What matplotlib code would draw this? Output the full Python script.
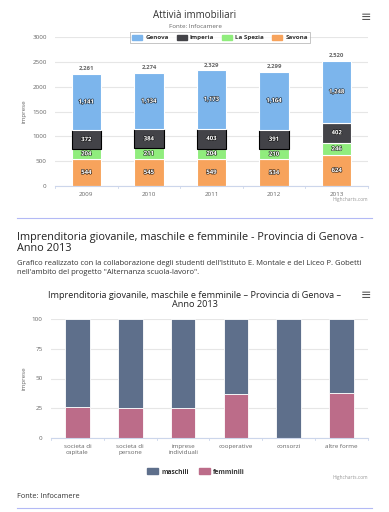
import matplotlib.pyplot as plt
import matplotlib.patheffects as pe
from matplotlib.patches import Patch
import numpy as np

# chart 1 data
anni = ['2009', '2010', '2011', '2012', '2013']
genova = [1141, 1134, 1173, 1164, 1248]
imperia = [372, 384, 403, 391, 402]
la_spezia = [204, 211, 204, 210, 246]
savona = [544, 545, 549, 534, 624]
totali = [2261, 2274, 2329, 2299, 2520]

# chart 2 data (percent)
forme = ['societa di\ncapitale', 'societa di\npersone', 'imprese\nindividuali',
         'cooperative', 'consorzi', 'altre forme']
maschili = [74, 75, 75, 63, 100, 62]
femminili = [26, 25, 25, 37, 0, 38]

W, H = 389, 512
plt.rcParams['font.family'] = ['Open Sans', 'DejaVu Sans']
fig = plt.figure(figsize=(W / 100, H / 100), dpi=100)
fig.patch.set_facecolor('white')


def px(x, y):
    return x / W, 1 - y / H


def axes_px(x0, y0, x1, y1):
    return fig.add_axes([x0 / W, 1 - y1 / H, (x1 - x0) / W, (y1 - y0) / H])


def style_ax(ax, ticks):
    ax.set_yticks(ticks)
    ax.grid(axis='y', color='#e6e6e6', lw=0.8)
    ax.set_axisbelow(True)
    for s in ['top', 'right', 'left']:
        ax.spines[s].set_visible(False)
    ax.spines['bottom'].set_color('#ccd6eb')
    ax.tick_params(axis='y', length=0, labelsize=4.5, labelcolor='#666666', pad=6)
    ax.tick_params(axis='x', length=0, labelsize=4.5, labelcolor='#666666', pad=4)
    ax.set_ylabel('imprese', fontsize=4.5, color='#666666', labelpad=4)


outline = [pe.withStroke(linewidth=0.9, foreground='black', alpha=0.7)]

# ---------- chart 1 ----------
ax1 = axes_px(55, 37, 368, 186)
x = np.arange(len(anni))
bw = 0.47
series = [('Savona', savona, '#f7a35c'), ('La Spezia', la_spezia, '#90ed7d'),
          ('Imperia', imperia, '#434348'), ('Genova', genova, '#7cb5ec')]
bottom = np.zeros(len(anni))
for name, vals, col in series:
    edges = ['black'] * 4 + ['white'] if name == 'Imperia' else ['white'] * 5
    ax1.bar(x, vals, bw, bottom=bottom, color=col, edgecolor=edges, lw=0.8)
    for xi, b, v in zip(x, bottom, vals):
        lab = f'{v:,}'
        ax1.text(xi, b + v / 2, lab, ha='center', va='center', fontsize=4.3,
                 color='white', fontweight='bold', path_effects=outline)
    bottom += np.array(vals)
for xi, t in zip(x, totali):
    ax1.text(xi, t + 60, f'{t:,}', ha='center', va='bottom', fontsize=4.3,
             color='#666666', fontweight='bold')
ax1.set_xlim(-0.5, len(anni) - 0.5)
ax1.set_ylim(0, 3000)
style_ax(ax1, range(0, 3001, 500))
ax1.set_xticks(x)
ax1.set_xticklabels(anni)
for b in np.arange(-0.5, len(anni), 1):
    ax1.plot([b, b], [0, -50], color='#ccd6eb', lw=0.6, clip_on=False)

handles = [Patch(color=c) for _, _, c in series[::-1]]
labels = [n for n, _, _ in series[::-1]]
leg = fig.legend(handles, labels, ncol=4, loc='center', bbox_to_anchor=px(220, 37.5),
                 fontsize=4.5, frameon=True, handlelength=1.6, handleheight=0.9,
                 columnspacing=1.3, handletextpad=0.5, borderpad=0.35, fancybox=False)
leg.get_frame().set_edgecolor('#999999')
leg.get_frame().set_linewidth(0.5)
for t in leg.get_texts():
    t.set_fontweight('bold')
    t.set_color('#333333')

fig.text(*px(195, 16), 'Attivià immobiliari', ha='center', va='center', fontsize=7, color='#333333')
fig.text(*px(195, 27), 'Fonte: Infocamere', ha='center', va='center', fontsize=4.5, color='#666666')
fig.text(*px(366, 17), '≡', ha='center', va='center', fontsize=9, color='#555555',
         family='DejaVu Sans')
fig.text(*px(368, 199), 'Highcharts.com', ha='right', va='center', fontsize=3.5, color='#999999')

# separators and page text
for yy in [218, 508]:
    fig.add_artist(plt.Line2D([17 / W, 372 / W], [1 - yy / H] * 2, color='#b3b9f5', lw=0.8))
fig.text(*px(17, 243), 'Imprenditoria giovanile, maschile e femminile - Provincia di Genova -\nAnno 2013',
         ha='left', va='center', fontsize=7.8, color='#222222', linespacing=1.05)
fig.text(*px(17, 268), 'Grafico realizzato con la collaborazione degli studenti dell\'Istituto E. Montale e del Liceo P. Gobetti\n'
         'nell\'ambito del progetto "Alternanza scuola-lavoro".',
         ha='left', va='center', fontsize=5.5, color='#333333', linespacing=1.3)
fig.text(*px(17, 497), 'Fonte: Infocamere', ha='left', va='center', fontsize=5.3, color='#333333')

# ---------- chart 2 ----------
ax2 = axes_px(51, 319, 368, 438)
x2 = np.arange(len(forme))
ax2.bar(x2, femminili, bw, color='#bc6c89', edgecolor='white', lw=0.6)
ax2.bar(x2, maschili, bw, bottom=femminili, color='#5e6f8b', edgecolor='white', lw=0.6)
ax2.set_xlim(-0.5, len(forme) - 0.5)
ax2.set_ylim(0, 100)
style_ax(ax2, range(0, 101, 25))
ax2.set_xticks(x2)
ax2.set_xticklabels(forme, linespacing=1.4)
for b in np.arange(-0.5, len(forme), 1):
    ax2.plot([b, b], [0, -2], color='#ccd6eb', lw=0.6, clip_on=False)

fig.text(*px(195, 300), 'Imprenditoria giovanile, maschile e femminile – Provincia di Genova –\nAnno 2013',
         ha='center', va='center', fontsize=6.6, color='#222222', linespacing=1.1)
fig.text(*px(366, 296), '≡', ha='center', va='center', fontsize=9, color='#555555',
         family='DejaVu Sans')
leg2 = fig.legend([Patch(color='#5e6f8b'), Patch(color='#bc6c89')], ['maschili', 'femminili'],
                  ncol=2, loc='center', bbox_to_anchor=px(196, 472), fontsize=4.8, frameon=False,
                  handlelength=1.6, handleheight=0.9, columnspacing=1.6, handletextpad=0.5)
for t in leg2.get_texts():
    t.set_fontweight('bold')
    t.set_color('#333333')
fig.text(*px(368, 478), 'Highcharts.com', ha='right', va='center', fontsize=3.5, color='#999999')

fig.savefig('out.png', dpi=100)
